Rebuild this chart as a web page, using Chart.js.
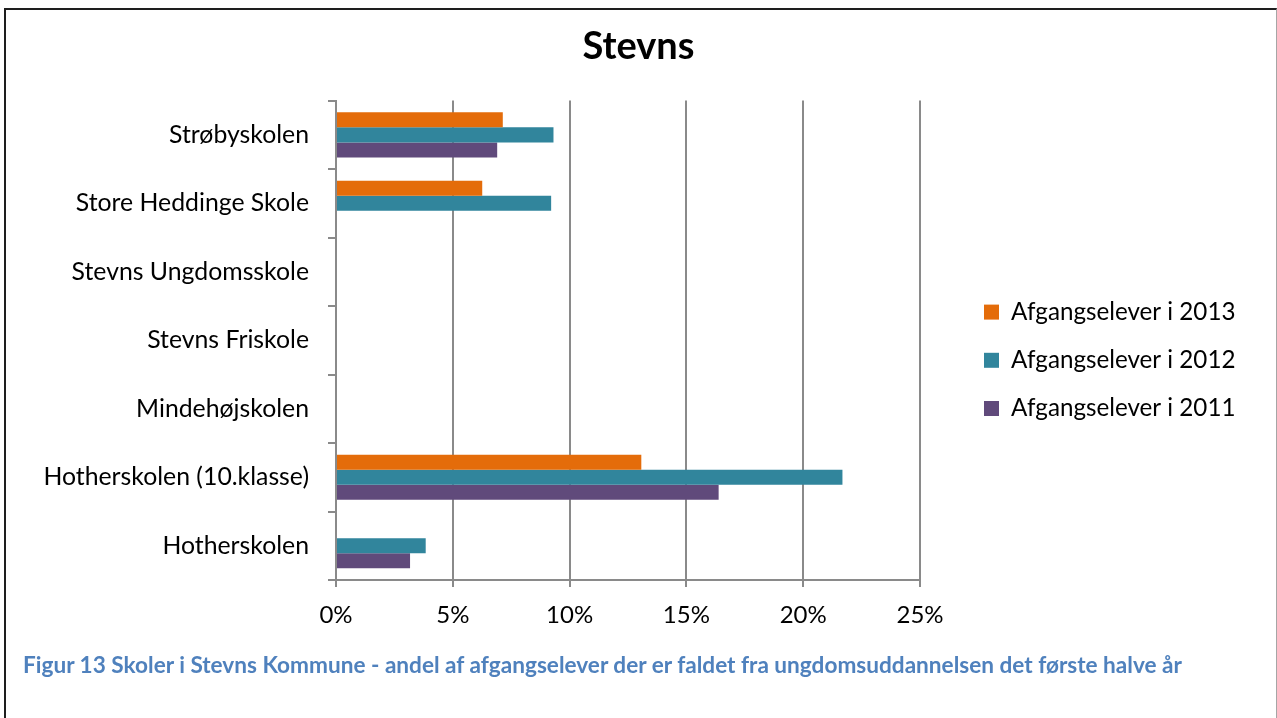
<!DOCTYPE html>
<html>
<head>
<meta charset="utf-8">
<title>Stevns</title>
<script src="https://cdn.jsdelivr.net/npm/chart.js@4/dist/chart.umd.min.js"></script>
<style>
  body { margin: 0; background: #fff; }
  #frame {
    position: absolute; left: 4px; top: 8px; width: 1270px; height: 760px;
    border-left: 2px solid #1e1e1e; border-top: 2px solid #1e1e1e; border-right: 1px solid #a6a6a6;
  }
  #wrap { position: absolute; left: 0; top: 0; width: 1277px; height: 640px; }
  #caption {
    position: absolute; left: 23px; top: 651px; white-space: nowrap;
    font-family: Lato, sans-serif; font-weight: bold; font-size: 22.6px; color: #4f81bd;
  }
</style>
</head>
<body>
<div id="wrap"><canvas id="chart"></canvas></div>
<div id="frame"></div>
<div id="caption">Figur 13 Skoler i Stevns Kommune - andel af afgangselever der er faldet fra ungdomsuddannelsen det første halve år</div>
<script>
// data (percent)
const schools = ['Strøbyskolen', 'Store Heddinge Skole', 'Stevns Ungdomsskole', 'Stevns Friskole',
                 'Mindehøjskolen', 'Hotherskolen (10.klasse)', 'Hotherskolen'];
const seriesNames = ['Afgangselever i 2013', 'Afgangselever i 2012', 'Afgangselever i 2011'];
const values2013 = [7.14, 6.26, null, null, null, 13.07, null];
const values2012 = [9.31, 9.21, null, null, null, 21.68, 3.84];
const values2011 = [6.90, null, null, null, null, 16.38, 3.17];
const xTicks = [0, 5, 10, 15, 20, 25];
const colors = ['#e46c0a', '#31859c', '#604a7b'];

Chart.defaults.font.family = 'Lato, sans-serif';
Chart.defaults.color = '#000';

// push the legend away from the plot, like the excel one
const legendGap = {
  id: 'legendGap',
  beforeLayout(chart) {
    const lg = chart.legend;
    if (lg && !lg._fixed) {
      const fit = lg.fit.bind(lg);
      lg.fit = function () { fit(); this.width = 357; };
      lg._fixed = true;
    }
  },
  afterLayout(chart) {
    const lg = chart.legend;
    lg.left += 40; lg.right += 40;
    lg.top = 276; lg.bottom = 500;
  }
};

const ctx = document.getElementById('chart').getContext('2d');
const chart = new Chart(ctx, {
  type: 'bar',
  data: {
    labels: schools,
    datasets: [
      { label: seriesNames[0], data: values2013, backgroundColor: colors[0] },
      { label: seriesNames[1], data: values2012, backgroundColor: colors[1] },
      { label: seriesNames[2], data: values2011, backgroundColor: colors[2] }
    ]
  },
  plugins: [legendGap],
  options: {
    indexAxis: 'y',
    responsive: true,
    maintainAspectRatio: false,
    animation: false,
    layout: { padding: 0 },
    datasets: { bar: { categoryPercentage: 0.66, barPercentage: 1, borderWidth: 0 } },
    plugins: {
      title: {
        display: true, text: 'Stevns', color: '#000',
        font: { size: 38, weight: 'bold' },
        padding: { top: 24, bottom: 31 }
      },
      legend: {
        position: 'right', align: 'start',
        labels: { boxWidth: 15, boxHeight: 15, padding: 24, font: { size: 24.2 }, color: '#000' }
      },
      tooltip: { enabled: false }
    },
    scales: {
      x: {
        min: 0, max: 25,
        afterBuildTicks: s => { s.ticks = xTicks.map(v => ({ value: v })); },
        afterFit: s => { s.height = 60; },
        ticks: { callback: v => v + '%', font: { size: 24 }, padding: 14, color: '#000' },
        grid: { color: '#8a8a8a', lineWidth: 2, tickLength: 7 },
        border: { color: '#8a8a8a', width: 2 }
      },
      y: {
        afterFit: s => { s.width = 336; },
        ticks: { font: { size: 24.8 }, padding: 19, color: '#000' },
        grid: { offset: true, drawOnChartArea: false, color: '#8a8a8a', lineWidth: 2, tickLength: 8 },
        border: { color: '#8a8a8a', width: 2 }
      }
    }
  }
});
</script>
</body>
</html>
